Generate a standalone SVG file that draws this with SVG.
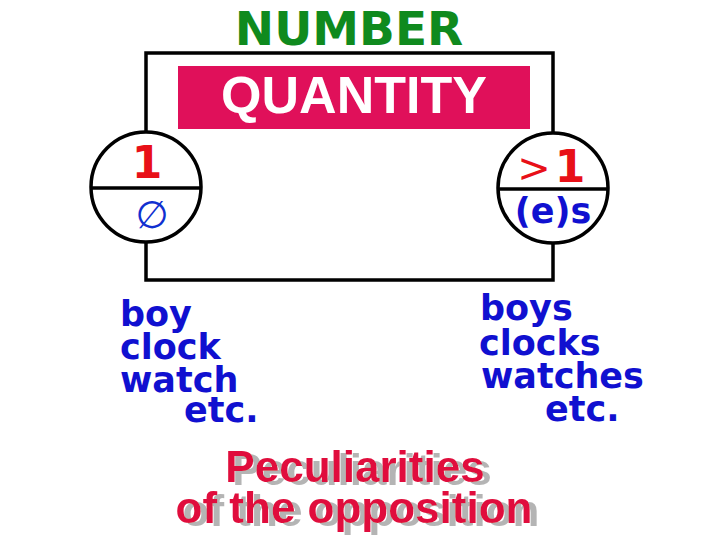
<svg xmlns="http://www.w3.org/2000/svg" width="720" height="540" viewBox="0 0 720 540">
<defs>
<style>
.ln{fill:none;stroke:#000;stroke-width:3.5}
.circ{fill:#fff;stroke:#000;stroke-width:3.5}
.blue{font-family:"DejaVu Sans",Verdana,sans-serif;font-weight:bold;fill:#1010D0;font-size:35px}
.red1{font-family:"DejaVu Sans",Verdana,sans-serif;font-weight:bold;fill:#E81018}
.peru{font-family:"Liberation Sans",Arial,sans-serif;font-weight:bold;font-size:44px;text-anchor:middle;fill:#E0103C}
</style>
<filter id="shadow" x="-10%" y="-20%" width="130%" height="150%">
<feOffset in="SourceAlpha" dx="7" dy="3" result="off"/>
<feFlood flood-color="#B4B4B4"/>
<feComposite in2="off" operator="in" result="sh"/>
<feMerge><feMergeNode in="sh"/><feMergeNode in="SourceGraphic"/></feMerge>
</filter>
</defs>
<rect width="720" height="540" fill="#fff"/>
<g id="connectors">
<polyline class="ln" points="146,140 146,53 553,53 553,140"/>
<polyline class="ln" points="146,240 146,280 553,280 553,240"/>
</g>
<g id="title">
<text x="349" y="45" font-family="DejaVu Sans,Verdana,sans-serif" font-weight="bold" font-size="47" fill="#0F8A1E" text-anchor="middle">NUMBER</text>
</g>
<g id="quantity">
<rect x="178" y="66" width="352" height="63" fill="#E0105A"/>
<text x="354" y="113" font-family="Liberation Sans,Arial,sans-serif" font-weight="bold" font-size="52" fill="#fff" text-anchor="middle">QUANTITY</text>
</g>
<g id="singular">
<circle class="circ" cx="146" cy="187" r="55"/>
<line class="ln" x1="91" y1="188" x2="201" y2="188"/>
<text class="red1" x="147" y="178" font-size="44" text-anchor="middle">1</text>
<text x="152" y="228" font-family="DejaVu Sans,sans-serif" font-size="38" fill="#1030D0" text-anchor="middle">∅</text>
</g>
<g id="plural">
<circle class="circ" cx="553" cy="188" r="55"/>
<line class="ln" x1="498" y1="189" x2="608" y2="189"/>
<text x="534" y="182" font-family="DejaVu Sans,sans-serif" font-size="40" fill="#E81018" text-anchor="middle">&gt;</text>
<text class="red1" x="570" y="182" font-size="44" text-anchor="middle">1</text>
<text class="blue" x="553" y="223" font-size="33" text-anchor="middle">(e)s</text>
</g>
<g id="left-words">
<text class="blue" x="120" y="326">boy</text>
<text class="blue" x="120" y="359">clock</text>
<text class="blue" x="120" y="392">watch</text>
<text class="blue" x="184" y="422">etc.</text>
</g>
<g id="right-words">
<text class="blue" x="480" y="320">boys</text>
<text class="blue" x="479" y="355">clocks</text>
<text class="blue" x="481" y="388">watches</text>
<text class="blue" x="545" y="421">etc.</text>
</g>
<g id="peculiarities" filter="url(#shadow)">
<text class="peru" x="355" y="482">Peculiarities</text>
<text class="peru" x="354" y="523">of the opposition</text>
</g>
</svg>
